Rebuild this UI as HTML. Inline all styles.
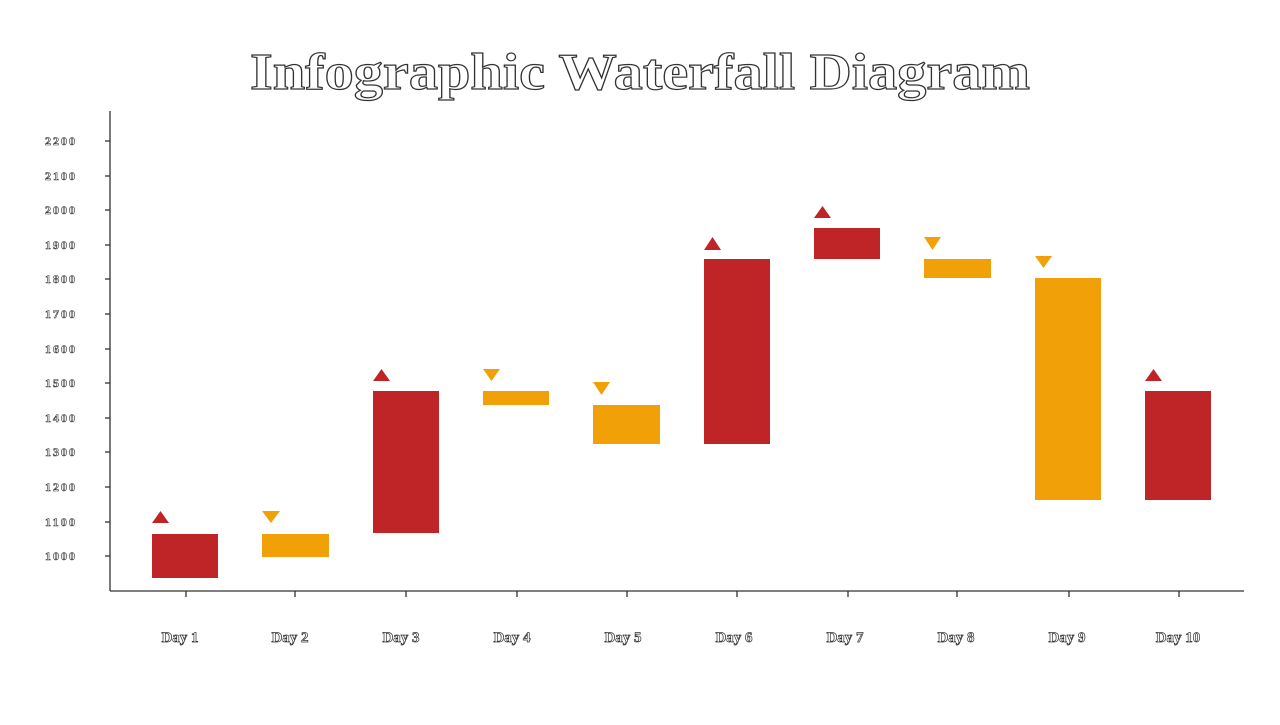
<!DOCTYPE html>
<html><head><meta charset="utf-8"><style>html,body{margin:0;padding:0;background:#fff}</style></head>
<body>
<svg width="1280" height="720" xmlns="http://www.w3.org/2000/svg">
<text x="250" y="89" textLength="780" lengthAdjust="spacingAndGlyphs" font-family="Liberation Serif, serif" font-weight="bold" font-size="52" fill="#fff" stroke="#333" stroke-width="1.2">Infographic Waterfall Diagram</text>
<g stroke="#333" stroke-width="1.3" fill="none">
<line x1="110" y1="111" x2="110" y2="591"/>
<line x1="110" y1="591" x2="1244" y2="591"/>
<line x1="105" y1="141" x2="110" y2="141"/><line x1="105" y1="176" x2="110" y2="176"/><line x1="105" y1="210" x2="110" y2="210"/><line x1="105" y1="245" x2="110" y2="245"/><line x1="105" y1="279" x2="110" y2="279"/><line x1="105" y1="314" x2="110" y2="314"/><line x1="105" y1="349" x2="110" y2="349"/><line x1="105" y1="383" x2="110" y2="383"/><line x1="105" y1="418" x2="110" y2="418"/><line x1="105" y1="452" x2="110" y2="452"/><line x1="105" y1="487" x2="110" y2="487"/><line x1="105" y1="522" x2="110" y2="522"/><line x1="105" y1="556" x2="110" y2="556"/>
<line x1="186" y1="591" x2="186" y2="597"/><line x1="295" y1="591" x2="295" y2="597"/><line x1="406" y1="591" x2="406" y2="597"/><line x1="517" y1="591" x2="517" y2="597"/><line x1="627" y1="591" x2="627" y2="597"/><line x1="737" y1="591" x2="737" y2="597"/><line x1="848" y1="591" x2="848" y2="597"/><line x1="957" y1="591" x2="957" y2="597"/><line x1="1069" y1="591" x2="1069" y2="597"/><line x1="1179" y1="591" x2="1179" y2="597"/>
</g>
<g font-family="Liberation Serif, serif" font-weight="bold" font-size="12" fill="#fff" stroke="#333" stroke-width="0.6">
<text x="45" y="145" textLength="30">2200</text><text x="45" y="180" textLength="30">2100</text><text x="45" y="214" textLength="30">2000</text><text x="45" y="249" textLength="30">1900</text><text x="45" y="283" textLength="30">1800</text><text x="45" y="318" textLength="30">1700</text><text x="45" y="353" textLength="30">1600</text><text x="45" y="387" textLength="30">1500</text><text x="45" y="422" textLength="30">1400</text><text x="45" y="456" textLength="30">1300</text><text x="45" y="491" textLength="30">1200</text><text x="45" y="526" textLength="30">1100</text><text x="45" y="560" textLength="30">1000</text>
</g>
<g font-family="Liberation Serif, serif" font-weight="bold" font-size="15" fill="#fff" stroke="#333" stroke-width="0.7" text-anchor="middle">
<text x="180" y="642">Day 1</text><text x="290" y="642">Day 2</text><text x="401" y="642">Day 3</text><text x="512" y="642">Day 4</text><text x="623" y="642">Day 5</text><text x="734" y="642">Day 6</text><text x="845" y="642">Day 7</text><text x="956" y="642">Day 8</text><text x="1067" y="642">Day 9</text><text x="1178" y="642">Day 10</text>
</g>
<g fill="#bf2427">
<rect x="152" y="534" width="66" height="44"/><polygon points="152,523 169,523 160.5,511"/>
<rect x="373" y="391" width="66" height="142"/><polygon points="373,381 390,381 381.5,369"/>
<rect x="704" y="259" width="66" height="185"/><polygon points="704,250 721,250 712.5,237"/>
<rect x="814" y="228" width="66" height="31"/><polygon points="814,218 831,218 822.5,206"/>
<rect x="1145" y="391" width="66" height="109"/><polygon points="1145,381 1162,381 1153.5,369"/>
</g>
<g fill="#f2a007">
<rect x="262" y="534" width="67" height="23"/><polygon points="262,511 280,511 271,523"/>
<rect x="483" y="391" width="66" height="14"/><polygon points="483,369 500,369 491.5,381"/>
<rect x="593" y="405" width="67" height="39"/><polygon points="593,382 610,382 601.5,395"/>
<rect x="924" y="259" width="67" height="19"/><polygon points="924,237 941,237 932.5,250"/>
<rect x="1035" y="278" width="66" height="222"/><polygon points="1035,256 1052,256 1043.5,268"/>
</g>
</svg>
</body></html>
